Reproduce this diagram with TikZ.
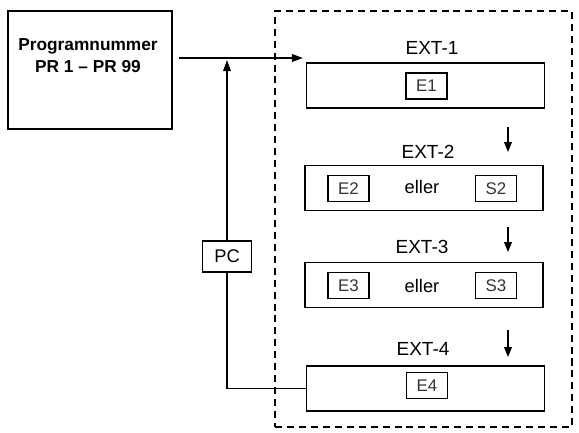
\documentclass[tikz,border=0pt]{standalone}
\usepackage{fontspec}
\setmainfont{Liberation Sans}
\usetikzlibrary{arrows.meta}

\begin{document}
\begin{tikzpicture}[
      line width=1pt,
      every node/.style={font=\fontsize{13}{15}\selectfont},
      prog/.style={draw, minimum width=4.1cm, minimum height=2.95cm},
      progtxt/.style={align=center, font=\fontsize{12.3}{15.6}\selectfont\bfseries},
      frame/.style={draw, dash pattern=on 5pt off 3.5pt, line width=1.2pt,
        minimum width=7.425cm, minimum height=10.4cm},
      ext/.style={draw, minimum width=5.95cm, minimum height=1.12cm},
      extlbl/.style={font=\fontsize{13.5}{16}\selectfont},
      reg/.style={draw, minimum width=1.025cm, minimum height=0.65cm, inner sep=0pt,
        text=black!80, font=\fontsize{12}{14}\selectfont},
      pcbox/.style={draw, minimum width=1.225cm, minimum height=0.775cm, inner sep=0pt},
      arr/.style={-{Triangle[length=8pt, width=5.5pt]}},
      step arr/.style={-{Triangle[length=7pt, width=5.5pt]}},
    ]
    \useasboundingbox (0, 0) rectangle (14.475, 10.8);

    \node[prog] (prog) at (2.25, 9.05) {};
    \node[progtxt] (progtext) at (2.2, 9.4) {Programnummer \\ PR 1 -- PR 99};

    \node[frame] (frame) at (10.5875, 5.325) {};

    \node[ext] (e1) at (10.64, 8.66) {};
    \node[ext] (e2) at (10.6, 6.1) {};
    \node[ext] (e3) at (10.6, 3.675) {};
    \node[ext] (e4) at (10.64, 1.09) {};

    \node[extlbl] (l1) at (10.8, 9.6) {EXT-1};
    \node[extlbl] (l2) at (10.7, 7.0) {EXT-2};
    \node[extlbl] (l3) at (10.55, 4.625) {EXT-3};
    \node[extlbl] (l4) at (10.575, 2.075) {EXT-4};

    \node[reg] (r1) at (10.66, 8.65) {E1};
    \node[reg] (r2) at (8.71, 6.09) {E2};
    \node (o2) at (10.55, 6.125) {eller};
    \node[reg] (s2) at (12.4, 6.09) {S2};
    \node[reg] (r3) at (8.71, 3.66) {E3};
    \node (o3) at (10.55, 3.65) {eller};
    \node[reg] (s3) at (12.4, 3.66) {S3};
    \node[reg] (r4) at (10.675, 1.16) {E4};

    \node[pcbox] (pc) at (5.675, 4.39) {PC};

    % input arrow and feedback loop
    \coordinate (in) at (7.575, 9.35);
    \draw[arr] ([xshift=0.15cm]prog.east |- in) -- (in);
    \draw (e4.west) -| (pc.south);
    \draw[arr] (pc.north) -- ([yshift=-0.05cm]pc.north |- in);

    % steps
    \coordinate (a1) at (12.7, 7.625); \coordinate (b1) at (12.7, 7.0);
    \coordinate (a2) at (12.7, 5.125); \coordinate (b2) at (12.7, 4.5);
    \coordinate (a3) at (12.7, 2.55);  \coordinate (b3) at (12.7, 1.875);
    \foreach \i in {1, 2, 3} \draw[step arr] (a\i) -- (b\i);
  \end{tikzpicture}
\end{document}
